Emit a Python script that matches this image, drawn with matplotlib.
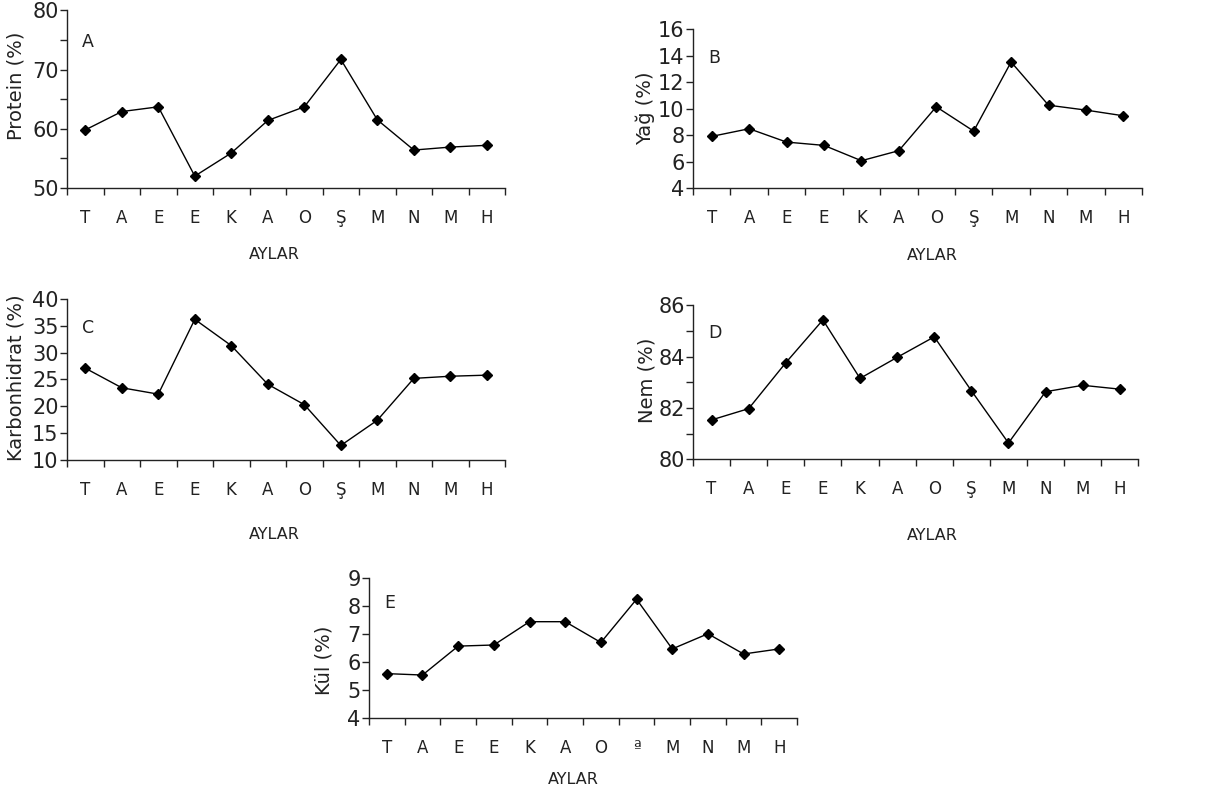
import numpy as np
import matplotlib
matplotlib.use("Agg")
import matplotlib.pyplot as plt
from matplotlib.ticker import MultipleLocator, FixedLocator, NullFormatter

plt.rcParams['font.family'] = ['DejaVu Sans']

# month initials, as printed under each panel
months = ["T", "A", "E", "E", "K", "A", "O", "Ş", "M", "N", "M", "H"]
months_e = ["T", "A", "E", "E", "K", "A", "O", "ª", "M", "N", "M", "H"]

protein = [59.8, 62.9, 63.7, 52.0, 55.9, 61.4, 63.7, 71.7, 61.5, 56.4, 56.9, 57.2]
yag = [7.9, 8.48, 7.47, 7.22, 6.06, 6.82, 10.14, 8.3, 13.53, 10.26, 9.89, 9.46]
karbonhidrat = [27.1, 23.45, 22.26, 36.2, 31.3, 24.1, 20.3, 12.7, 17.4, 25.2, 25.6, 25.8]
nem = [81.53, 81.97, 83.76, 85.43, 83.15, 83.97, 84.77, 82.67, 80.63, 82.63, 82.88, 82.73]
kul = [5.58, 5.53, 6.56, 6.6, 7.43, 7.43, 6.69, 8.23, 6.46, 7.0, 6.28, 6.46]

txt = "#222222"

fig = plt.figure(figsize=(12.32, 7.93), dpi=100)

panels = [
    # rect, data, labels, ylabel, letter, ylim, major, minor, ylabel_pos, xlabel_pos
    ([0.0544, 0.763, 0.3556, 0.224], protein, months, "Protein (%)", "A", (50, 80), 10, 5, (-0.094, 0.573), (0.473, -0.331)),
    ([0.5625, 0.763, 0.3645, 0.200], yag, months, "Yağ (%)", "B", (4, 16), 2, 2, (-0.085, 0.5), (0.532, -0.377)),
    ([0.0544, 0.420, 0.3556, 0.203], karbonhidrat, months, "Karbonhidrat (%)", "C", (10, 40), 5, 5, (-0.094, 0.51), (0.473, -0.416)),
    ([0.5625, 0.421, 0.3615, 0.194], nem, months, "Nem (%)", "D", (80, 86), 2, 1, (-0.083, 0.51), (0.537, -0.448)),
    ([0.2995, 0.0946, 0.3475, 0.177], kul, months_e, "Kül (%)", "E", (4, 9), 1, 1, (-0.084, 0.414), (0.477, -0.386)),
]

for rect, vals, labs, ylab, letter, ylim, major, minor, ylp, xlp in panels:
    ax = fig.add_axes(rect)
    x = np.arange(len(vals))
    ax.plot(x, vals, color="black", lw=1.0, marker="D", markersize=5.5)
    ax.set_xlim(-0.5, len(vals) - 0.5)
    ax.set_ylim(*ylim)

    ax.spines['top'].set_visible(False)
    ax.spines['right'].set_visible(False)
    for s in ['left', 'bottom']:
        ax.spines[s].set_color(txt)
        ax.spines[s].set_linewidth(1.0)

    # ticks at category boundaries, labels centred under points
    ax.xaxis.set_major_locator(FixedLocator(np.arange(-0.5, len(vals), 1.0)))
    ax.xaxis.set_major_formatter(NullFormatter())
    ax.xaxis.set_minor_locator(FixedLocator(x))
    ax.set_xticklabels(labs, minor=True)
    ax.tick_params(axis='x', which='major', direction='out', length=5, width=1, color=txt)
    ax.tick_params(axis='x', which='minor', length=0, pad=15, labelsize=12, labelcolor=txt)

    ax.yaxis.set_major_locator(MultipleLocator(major))
    ax.yaxis.set_minor_locator(MultipleLocator(minor))
    ax.tick_params(axis='y', which='both', direction='out', length=5, width=1, color=txt,
                   labelsize=15, labelcolor=txt, pad=1)

    ax.set_ylabel(ylab, fontsize=14, color=txt)
    ax.yaxis.set_label_coords(*ylp)
    ax.set_xlabel("AYLAR", fontsize=11.5, color=txt)
    ax.xaxis.set_label_coords(*xlp)

    ax.text(0.035, 0.82, letter, transform=ax.transAxes, fontsize=12.5, color=txt,
            ha="left", va="center")

fig.savefig("out.png", dpi=100)
